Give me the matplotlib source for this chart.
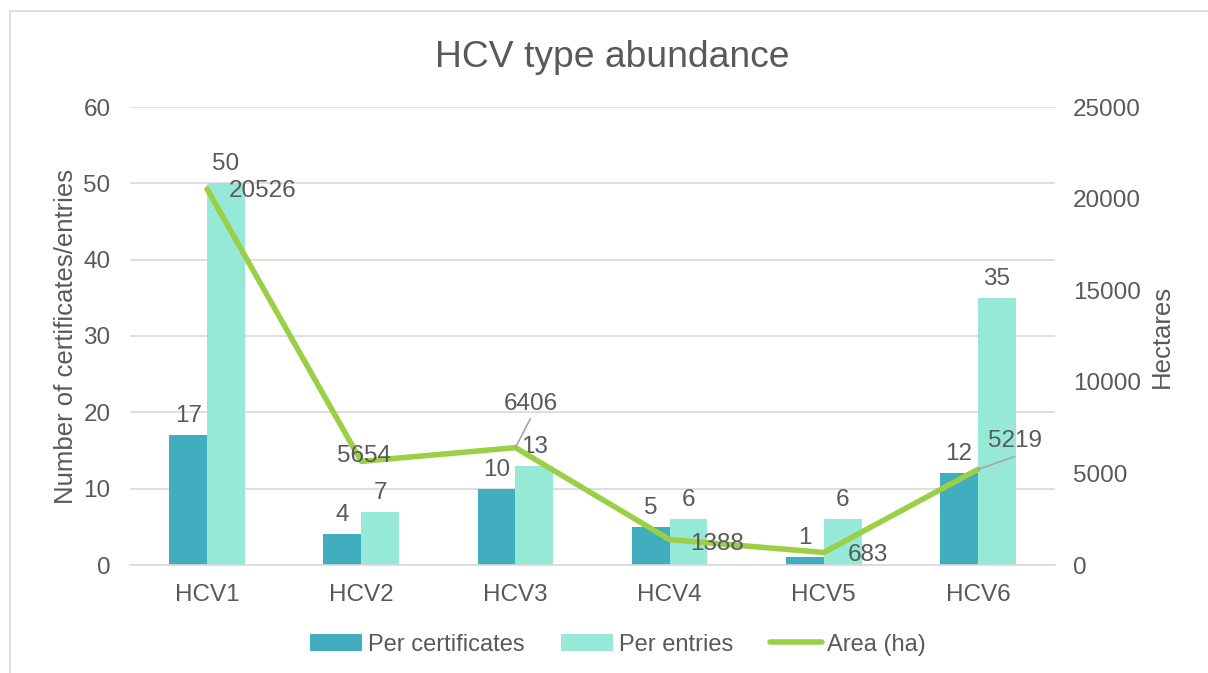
import matplotlib.pyplot as plt
from matplotlib.patches import Rectangle

plt.rcParams['font.family'] = ['Liberation Sans', 'DejaVu Sans']

categories = ['HCV1', 'HCV2', 'HCV3', 'HCV4', 'HCV5', 'HCV6']
per_certificates = [17, 4, 10, 5, 1, 12]
per_entries = [50, 7, 13, 6, 6, 35]
area_ha = [20526, 5654, 6406, 1388, 683, 5219]

# label offsets (pixels) for the area line, roughly as placed in the original
area_offsets = [(55, -2), (3, 5), (15, 44), (47, -4), (44, -3), (37, 28)]
area_leader = [False, False, True, False, False, True]

text_col = '#595959'
c_cert = '#40AEBE'
c_entr = '#97E9D7'
c_area = '#9BCF45'
grid_col = '#D9D9D9'

fig = plt.figure(figsize=(12.08, 6.73), dpi=100)
fig.patches.append(Rectangle((10 / 1208, -1), 2, 2 - 11 / 673, transform=fig.transFigure,
                             fill=False, edgecolor='#D9D9D9', linewidth=1.2))

ax = fig.add_axes([130 / 1208, 108 / 673, 925 / 1208, 458 / 673])
ax2 = ax.twinx()

x = list(range(len(categories)))
w = 0.245
b1 = ax.bar([i - w / 2 for i in x], per_certificates, w, color=c_cert, label='Per certificates', zorder=2)
b2 = ax.bar([i + w / 2 for i in x], per_entries, w, color=c_entr, label='Per entries', zorder=2)

for bars, vals in ((b1, per_certificates), (b2, per_entries)):
    for r, v in zip(bars, vals):
        ax.annotate(str(v), (r.get_x() + r.get_width() / 2, v), xytext=(0, 8),
                    textcoords='offset pixels', ha='center', va='bottom',
                    fontsize=17.5, color=text_col)

ln, = ax2.plot(x, area_ha, color=c_area, linewidth=4, solid_capstyle='round',
               solid_joinstyle='round', label='Area (ha)', zorder=3)
for i, v in enumerate(area_ha):
    dx, dy = area_offsets[i]
    if area_leader[i]:
        ax2.annotate('', (i, v), xytext=(dx, dy - 15), textcoords='offset pixels',
                     arrowprops=dict(arrowstyle='-', color='#A6A6A6', lw=1.2, shrinkA=0, shrinkB=0))
    ax2.annotate(str(v), (i, v), xytext=(dx, dy), textcoords='offset pixels',
                 ha='center', va='center', fontsize=17.5, color=text_col, zorder=4)

ax.set_xlim(-0.5, 5.5)
ax.set_ylim(0, 60)
ax.set_yticks(range(0, 61, 10))
ax2.set_ylim(0, 25000)
ax2.set_yticks(range(0, 25001, 5000))
ax.set_xticks(x)
ax.set_xticklabels(categories)

ax.yaxis.grid(True, color=grid_col, linewidth=1.2, zorder=0)
ax.set_axisbelow(True)
for a in (ax, ax2):
    for s in a.spines.values():
        s.set_visible(False)
    a.tick_params(length=0, labelsize=17.5, labelcolor=text_col)
ax.spines['bottom'].set_visible(True)
ax.spines['bottom'].set_color(grid_col)
ax.spines['bottom'].set_linewidth(1.2)
ax.tick_params(axis='y', pad=14)
ax.tick_params(axis='x', pad=14)
ax2.tick_params(axis='y', pad=13)

ax.set_ylabel('Number of certificates/entries', fontsize=18.5, color=text_col, labelpad=4)
ax2.set_ylabel('Hectares', fontsize=18.5, color=text_col, labelpad=6)
fig.suptitle('HCV type abundance', fontsize=26.8, color=text_col, x=0.507, y=0.94)

fig.legend(handles=[b1, b2, ln], loc='center', bbox_to_anchor=(0.5116, 0.042), ncol=3,
           frameon=False, fontsize=17, labelcolor=text_col, handlelength=2.2,
           handletextpad=0.25, columnspacing=1.55)

plt.savefig('out.png', dpi=100)
